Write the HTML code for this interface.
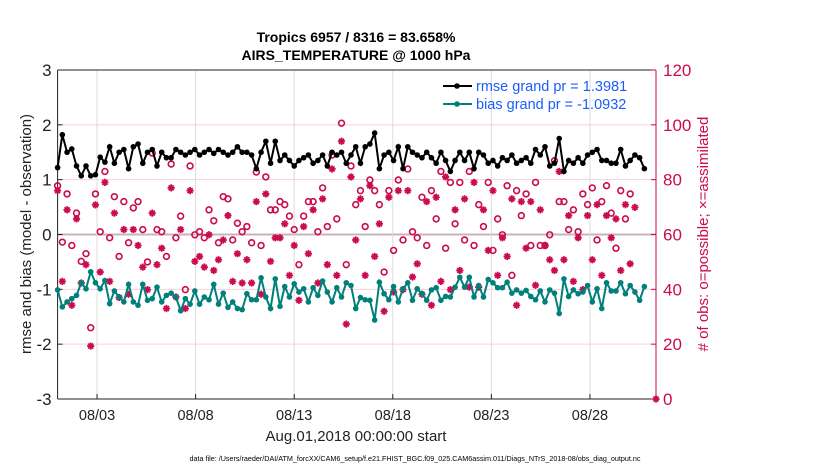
<!DOCTYPE html>
<html><head><meta charset="utf-8"><style>
body{margin:0;background:#fff;}
svg{font-family:"Liberation Sans",sans-serif;}
</style></head><body>
<svg id="c" width="830" height="470" xmlns="http://www.w3.org/2000/svg"></svg>
<script>
const xTickLabels=["08/03","08/08","08/13","08/18","08/23","08/28"];
const xTickDays=[2,7,12,17,22,27];
const yLeftTicks=[-3,-2,-1,0,1,2,3];
const yRightTicks=[0,20,40,60,80,100,120];
const rmse=[1.22,1.82,1.5,1.56,1.25,1.07,1.25,1.07,1.09,1.41,1.32,1.6,1.3,1.5,1.55,1.2,1.6,1.65,1.3,1.5,1.55,1.25,1.5,1.4,1.4,1.55,1.5,1.45,1.5,1.55,1.45,1.5,1.55,1.48,1.55,1.5,1.45,1.5,1.6,1.5,1.5,1.45,1.2,1.5,1.7,1.3,1.7,1.35,1.45,1.35,1.25,1.35,1.4,1.45,1.3,1.35,1.45,1.25,1.5,1.45,1.5,1.3,
1.45,1.6,1.3,1.6,1.65,1.85,1.2,1.45,1.5,1.35,1.6,1.2,1.6,1.5,1.45,1.4,1.5,1.4,1.3,1.5,1.35,1.15,1.35,1.5,1.35,1.5,1.2,1.5,1.45,1.3,1.35,1.25,1.4,1.35,1.45,1.3,1.35,1.4,1.3,1.55,1.45,1.6,1.25,1.3,1.75,1.15,1.35,1.3,1.4,1.3,1.45,1.5,1.55,1.35,1.35,1.3,1.3,1.55,1.25,1.35,1.45,1.4,1.2];
const bias=[-1.01,-1.32,-1.23,-1.17,-1.11,-0.88,-0.99,-0.68,-0.88,-0.99,-0.84,-1.26,-1.03,-1.14,-1.23,-0.91,-1.23,-1.29,-0.91,-1.2,-1.17,-0.96,-1.23,-1.11,-1.07,-1.14,-1.39,-1.17,-1.27,-1.03,-1.27,-1.14,-1.19,-0.91,-1.27,-1.07,-1.33,-1.23,-1.35,-1.37,-1.08,-1.19,-1.19,-0.79,-1.14,-1.35,-0.81,-1.31,-0.95,-1.14,-0.9,-1.05,-0.99,-1.23,-0.97,-1.11,-0.85,-1.05,-1.23,-0.97,-1.14,-0.88,
-0.93,-1.35,-1.15,-1.19,-1.2,-1.56,-0.87,-1.08,-1.19,-0.95,-1.23,-0.99,-0.88,-1.2,-0.99,-1.08,-1.2,-1.01,-0.97,-1.2,-1.13,-1.14,-0.96,-0.78,-0.96,-0.78,-1.14,-0.93,-1.14,-0.82,-0.88,-0.97,-0.97,-0.87,-1.07,-1.01,-1.07,-1.02,-1.13,-1.19,-1.03,-1.23,-1.01,-1.07,-1.44,-0.81,-1.13,-1.01,-1.08,-1.05,-0.93,-1.23,-0.99,-1.35,-0.88,-1.03,-1.03,-0.88,-1.08,-0.93,-1.05,-1.2,-0.95];
const possible=[77.8,57.2,74.8,56,67.8,50.2,53,26,74.8,61,83,58.8,73.8,52,72,57,69.7,72,61.8,50,89.7,61.8,61,52,85.7,58.8,66.7,39.9,85,59.9,61,58.8,69,65,57,73.8,73,58,64.1,61,62.9,57,82.8,56,81,69,69,72,70.9,66.7,61.8,49,66.7,72,72,61,77,62.9,89,65.7,100.6,49,
85,70.9,76,62.9,79.9,76,70.9,46.3,76,54.2,79.9,58,83.9,61,58.8,73.6,56,76,65.7,83,55,79,63.9,79,58,83,56,70.9,62.9,79,54.2,65.7,59.9,77.8,45.1,76,66.9,74.8,56,79,56,56,59.9,86.9,72,72,61.8,69,61,74.8,70.9,77,58,72,77.8,67.8,55,76,65.7,74.8];
const assimilated=[76,42.9,69,34.2,65.7,42.3,49,19.3,70.8,46.3,79,42.9,67.8,37,61.8,38.2,61.8,56,48.1,39.9,67.8,49,55,33,77,37.2,61.8,33,76,50.2,52,48.1,59.9,46.9,50.8,58,66.9,42.9,53,42.3,50.8,42.3,72,38.2,74.8,50.2,58.8,58.8,63.9,45.1,56,36,62.9,53,69,42.3,73,49,83.9,45.1,94,27.3,
81,58,73,45.1,77.8,52,63.9,32,73.6,39,76,39.9,76,44.5,49.3,38.2,72,34.2,73.6,42.9,81,39.9,69,46.9,73,40.8,79,40.8,69,54.2,76,45.1,58.8,52,73,34.2,72,55,72,41.5,69,56,50.8,46.9,83,50.8,66.9,42.9,58.8,39.9,66.9,50.8,70.9,45.1,66.9,58.8,65.7,46.9,70.9,49.3,69.9,0];
const stepDays=0.24;
const xMaxDays=30.35;

const L=57.6,R=656,T=70,B=399,NS="http://www.w3.org/2000/svg";
const X=d=>L+d/xMaxDays*(R-L);
const YL=v=>B-(v+3)/6*(B-T);
const YR=v=>B-v/120*(B-T);
const svg=document.getElementById('c');
function el(t,a,p){const e=document.createElementNS(NS,t);for(const k in a)e.setAttribute(k,a[k]);(p||svg).appendChild(e);return e;}
const RED="#cc0a50",TEAL="#00807a";
yLeftTicks.forEach(v=>{const g=el('line',{x1:L,x2:R,y1:YL(v),y2:YL(v),stroke:v===0?"#c8b4bc":"#f5d0dd","stroke-width":v===0?2:1});

});
xTickDays.forEach(d=>{const g=el('line',{x1:X(d),x2:X(d),y1:T,y2:B,stroke:"#dcdcdc","stroke-width":1});

});
const ax=el('g',{});


el('line',{x1:L,x2:R,y1:T,y2:T,stroke:"#222"},ax);
el('line',{x1:L,x2:R,y1:B,y2:B,stroke:"#222"},ax);
el('line',{x1:L,x2:L,y1:T,y2:B,stroke:"#222"},ax);
el('line',{x1:R,x2:R,y1:T,y2:B,stroke:RED},ax);
yLeftTicks.forEach(v=>{el('line',{x1:L,x2:L+5,y1:YL(v),y2:YL(v),stroke:"#222"},ax);
const t=el('text',{x:L-6,y:YL(v)+6,"text-anchor":"end","font-size":17,fill:"#222"},ax);t.textContent=v;

});
yRightTicks.forEach(v=>{el('line',{x1:R-5,x2:R,y1:YR(v),y2:YR(v),stroke:RED},ax);
const t=el('text',{x:R+7,y:YR(v)+6,"font-size":17,fill:RED},ax);t.textContent=v;

});
xTickDays.forEach((d,i)=>{el('line',{x1:X(d),x2:X(d),y1:B,y2:B-5,stroke:"#222"},ax);
const t=el('text',{x:X(d),y:B+21,"text-anchor":"middle","font-size":14.5,fill:"#222"},ax);t.textContent=xTickLabels[i];

});
possible.forEach((v,i)=>{const c=el('circle',{cx:X(i*stepDays),cy:YR(v),r:2.9,fill:"none",stroke:RED,"stroke-width":1.6});

});
assimilated.forEach((v,i)=>{const x=X(i===assimilated.length-1?xMaxDays:i*stepDays),y=YR(v),s=3.6;
const g=el('path',{d:`M${x-s},${y}H${x+s}M${x},${y-s}V${y+s}M${x-s*0.7},${y-s*0.7}L${x+s*0.7},${y+s*0.7}M${x-s*0.7},${y+s*0.7}L${x+s*0.7},${y-s*0.7}`,stroke:RED,"stroke-width":1.8});

});
function series(arr,col,name){const pts=arr.map((v,i)=>X(i*stepDays)+","+YL(v)).join(" ");
const p=el('polyline',{points:pts,fill:"none",stroke:col,"stroke-width":2});


arr.forEach((v,i)=>{const c=el('circle',{cx:X(i*stepDays),cy:YL(v),r:2.8,fill:col});

});}
series(rmse,"#000","rmse");
series(bias,TEAL,"bias");
const lg=el('g',{});


[["rmse grand pr = 1.3981","#000",91],["bias grand pr = -1.0932",TEAL,109]].forEach(a=>{
el('line',{x1:443,x2:472,y1:a[2]-5,y2:a[2]-5,stroke:a[1],"stroke-width":2},lg);
el('circle',{cx:457,cy:a[2]-5,r:2.8,fill:a[1]},lg);
const t=el('text',{x:476,y:a[2],"font-size":14.5,fill:"#1a5cff"},lg);t.textContent=a[0];

});
function txt(s,a,name){const t=el('text',a);t.textContent=s;return t;}
txt("Tropics 6957 / 8316 = 83.658%",{x:356,y:42,"text-anchor":"middle","font-size":14,"font-weight":"bold",fill:"#000"},'chart-title');
txt("AIRS_TEMPERATURE @ 1000 hPa",{x:356,y:60,"text-anchor":"middle","font-size":14,"font-weight":"bold",fill:"#000"},'chart-subtitle');
txt("rmse and bias (model - observation)",{x:0,y:0,transform:"translate(31,234) rotate(-90)","text-anchor":"middle","font-size":15,fill:"#222"},'y-left-axis-title');
txt("# of obs: o=possible; \u00d7=assimilated",{x:0,y:0,transform:"translate(708,234) rotate(-90)","text-anchor":"middle","font-size":15,fill:RED},'y-right-axis-title');
txt("Aug.01,2018 00:00:00 start",{x:356,y:441,"text-anchor":"middle","font-size":15,fill:"#222"},'x-axis-title');
txt("data file: /Users/raeder/DAI/ATM_forcXX/CAM6_setup/f.e21.FHIST_BGC.f09_025.CAM6assim.011/Diags_NTrS_2018-08/obs_diag_output.nc",{x:415,y:461,"text-anchor":"middle","font-size":7.2,fill:"#000"},'data-file-note');
</script>
</body></html>
